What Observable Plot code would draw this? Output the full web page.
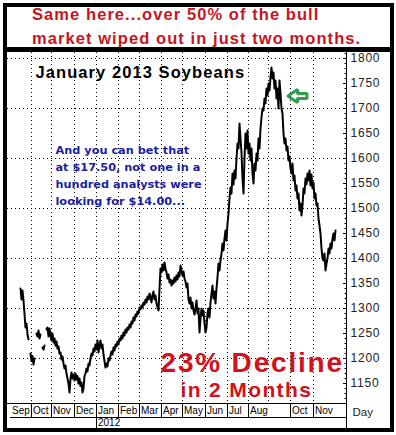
<!DOCTYPE html>
<html><head><meta charset="utf-8">
<script src="https://cdn.jsdelivr.net/npm/d3@7"></script>
<script src="https://cdn.jsdelivr.net/npm/@observablehq/plot@0.6"></script>
<style>
html,body{margin:0;padding:0;background:#fff;}
#wrap{position:relative;width:396px;height:435px;overflow:hidden;background:#fff;font-family:"Liberation Sans",Arial,sans-serif;}
#frame{position:absolute;left:3px;top:3px;width:391px;height:429px;border:4px solid #000;box-sizing:border-box;z-index:3;}
#titlebar{position:absolute;left:3px;top:47px;width:391px;height:5px;background:#000;z-index:3;}
#title{position:absolute;left:32px;top:3px;color:#c8141e;font-weight:bold;font-size:16.5px;line-height:23.5px;letter-spacing:0.065em;white-space:nowrap;z-index:2;}
#chart{position:absolute;left:0;top:50px;}
</style></head>
<body>
<div id="wrap">
  <div id="title">Same here...over 50% of the bull<br>market wiped out in just two months.</div>
  <div id="chart"></div>
  <div id="frame"></div>
  <div id="titlebar"></div>
</div>
<script>
// ---- data ----
const monthLabels = ["Sep","Oct","Nov","Dec","Jan","Feb","Mar","Apr","May","Jun","Jul","Aug","Sep","Oct","Nov"];
const monthStartDay = [0,21,41,64,86,108,129,151,172,195,217,238,258,280,303];
const monthLabelShown = [true,true,true,true,true,true,true,true,true,true,true,true,false,true,true];
const yearLabels = ["2012"];
const yearStartDay = [86];
const gridLevels = [1200,1300,1400,1500,1600,1700,1800];
const majorTicks = [1150,1200,1250,1300,1350,1400,1450,1500,1550,1600,1650,1700,1750,1800];
const firstDay = 10;
const prices = [
1340,1318,1336,1316,1290,1262,1270,1248,1238,null,
1210,1195,1205,1188,1200,null,1250,1244,1256,1240,
1248,null,1222,1218,1226,null,1258,1262,1244,1260,
1246,1236,1250,1232,1240,1226,1234,1220,1224,1210,
1212,1198,1204,1190,1180,1186,1170,1160,1150,1132,
1160,1172,1160,1168,1156,1170,1158,1165,1150,1160,
1145,1152,1132,1140,1165,1170,1180,1174,1190,1186,
1200,1210,1206,1220,1214,1228,1218,1236,1212,1226,
1236,1220,1228,1208,1195,1182,1190,1184,1200,1196,
1206,1214,1208,1222,1216,1228,1224,1234,1228,1240,
1236,1246,1240,1252,1246,1258,1252,1262,1258,1268,
1262,1274,1270,1282,1276,1288,1284,1294,1290,1302,
1298,1306,1302,1312,1308,1318,1312,1324,1318,1330,
1322,1312,1328,1334,1318,1326,1310,1302,1296,1340,
1380,1372,1388,1376,1392,1380,1372,1360,1368,1352,
1358,1346,1356,1350,1362,1354,1366,1358,1372,1364,
1386,1376,1366,1374,1360,1354,1342,1350,1318,1310,
1322,1300,1312,1296,1288,1300,1316,1290,1300,1252,
1280,1300,1286,1296,1270,1252,1262,1290,1300,1282,
1312,1330,1346,1320,1334,1310,1340,1362,1390,1376,
1396,1410,1430,1416,1440,1456,1436,1470,1490,1520,
1542,1530,1570,1548,1576,1560,1600,1630,1620,1670,
1640,1612,1560,1530,1600,1650,1620,1656,1610,1630,
1596,1620,1570,1550,1590,1576,1610,1596,1640,1620,
1660,1682,1700,1696,1720,1710,1740,1726,1750,1736,
1762,1782,1760,1772,1740,1756,1720,1740,1700,1756,
1730,1700,1690,1650,1630,1640,1616,1624,1596,1604,
1580,1570,1590,1556,1566,1536,1546,1520,1530,1496,
1510,1486,1506,1540,1530,1560,1548,1570,1556,1576,
1546,1568,1540,1552,1520,1530,1506,1510,1480,1466,
1450,1420,1400,1396,1410,1376,1390,1400,1420,1410,
1430,1420,1440,1450,1436,1456
];

// ---- derived tables ----
const series = prices.map((p, i) => ({day: firstDay + i, price: p}));
const months = monthLabels.map((m, i) => ({label: m, day: monthStartDay[i], shown: monthLabelShown[i]}));
const shownMonths = months.filter(d => d.shown);
const separatorDays = months.filter((d, i) => i > 0 && d.shown).map(d => d.day);
const years = yearLabels.map((y, i) => ({label: y, day: yearStartDay[i]}));
const yMin = 1110, yMax = 1812, xMin = -3, xMax = 336;
const minorTicks = d3.range(1120, 1811, 10);
const unit = 2; // price units per pixel
const arrowShape = [[277.5,1725],[287,1738],[287,1730],[296.5,1730],[296.5,1720],[287,1720],[287,1712],[277.5,1725]].map(([day, price]) => ({day, price}));

const red = "#d0121c", blue = "#1b1f9e", green = "#2f9e4f";

const chart = Plot.plot({
  width: 396, height: 385,
  marginTop: 2, marginBottom: 32, marginLeft: 7, marginRight: 50,
  x: {domain: [xMin, xMax], axis: null},
  y: {domain: [yMin, yMax], axis: null},
  style: {background: "transparent", fontFamily: "'Liberation Sans', Arial, sans-serif", overflow: "visible"},
  marks: [
    Plot.ruleY(gridLevels, {stroke: "#000", strokeDasharray: "1,3"}),
    Plot.ruleX(monthStartDay.slice(1), {stroke: "#000", strokeDasharray: "1,3"}),
    Plot.ruleY([yMin], {stroke: "#000"}),
    Plot.ruleX([xMax], {y1: yMin - 25 * unit, y2: yMax, stroke: "#000"}),
    Plot.ruleY(minorTicks, {x1: xMax - 1.5, x2: xMax, stroke: "#000"}),
    Plot.ruleY(majorTicks, {x1: xMax - 3, x2: xMax, stroke: "#000"}),
    Plot.text(majorTicks, {x: xMax, y: d => d, text: d => String(d), textAnchor: "start", dx: 4, fontSize: 12, fill: "#222"}),
    // x label row
    Plot.ruleX(separatorDays, {y1: yMin, y2: yMin - 14 * unit, stroke: "#000"}),
    Plot.ruleY([yMin - 14 * unit], {x1: 0, x2: xMax, stroke: "#000"}),
    Plot.text(shownMonths, {x: "day", y: yMin - 7 * unit, text: "label", textAnchor: "start", dx: 1.5, fontSize: 10, fill: "#000"}),
    Plot.ruleX(yearStartDay, {y1: yMin - 14 * unit, y2: yMin - 25 * unit, stroke: "#000"}),
    Plot.text(years, {x: "day", y: yMin - 19.5 * unit, text: "label", textAnchor: "start", dx: 1.5, fontSize: 10, fill: "#000"}),
    Plot.text(["Day"], {x: xMax, y: yMin - 9 * unit, text: d => d, textAnchor: "start", dx: 6, fontSize: 11.5, fill: "#222"}),
    // price series
    Plot.line(series, {x: "day", y: "price", stroke: "#000", strokeWidth: 2}),
    // annotations
    Plot.text(["January 2013 Soybeans"], {x: 25, y: 1771, text: d => d, textAnchor: "start", fontSize: 16.5, fontWeight: "bold", fill: "#000"}),
    Plot.text(["And you can bet that\nat $17.50, not one in a\nhundred analysts were\nlooking for $14.00..."], {x: 45, y: 1569, text: d => d, textAnchor: "start", fontSize: 11.3, lineHeight: 1.5, fontWeight: "bold", fill: blue, fontFamily: "'DejaVu Sans', Verdana, sans-serif"}),
    Plot.text(["23% Decline"], {x: 150, y: 1190, text: d => d, textAnchor: "start", fontSize: 28, fontWeight: "bold", fill: red}),
    Plot.text(["in 2 Months"], {x: 170, y: 1137, text: d => d, textAnchor: "start", fontSize: 21, fontWeight: "bold", fill: red}),
    Plot.line(arrowShape, {x: "day", y: "price", stroke: green, strokeWidth: 3, strokeLinejoin: "miter"})
  ]
});
document.getElementById("chart").appendChild(chart);
// widen the Arial-like texts slightly (the reference renders them wider); leave small labels and the Verdana-like block alone
d3.select(chart).selectAll("g[aria-label='text']").each(function() {
  const fs = +this.getAttribute("font-size");
  const ff = this.getAttribute("font-family") || "";
  if (fs >= 12 && !ff.includes("DejaVu")) d3.select(this).style("letter-spacing", "0.065em");
});
</script>
</body></html>
